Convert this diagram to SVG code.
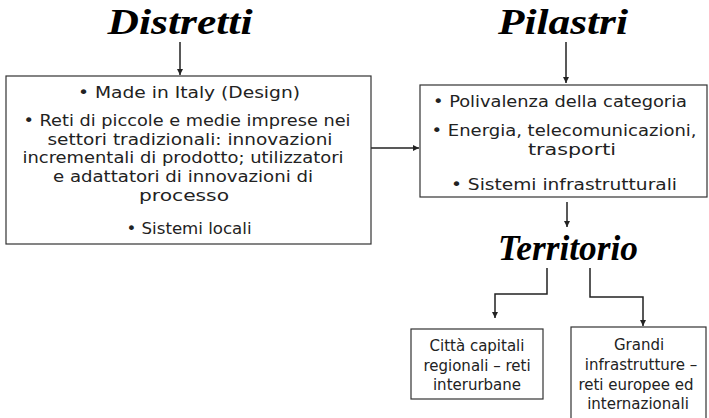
<svg xmlns="http://www.w3.org/2000/svg" width="709" height="418" viewBox="0 0 709 418">
<style>
.title{font-family:"Liberation Serif","Times New Roman",serif;font-weight:bold;font-style:italic;font-size:36px;fill:#000;text-anchor:middle}
.t{font-family:"DejaVu Sans",Verdana,sans-serif;font-size:16px;fill:#222;text-anchor:middle}
.s{font-family:"DejaVu Sans",Verdana,sans-serif;font-size:15px;fill:#222;text-anchor:middle}
.box{fill:#fff;stroke:#333;stroke-width:1.2}
.c{fill:none;stroke:#222;stroke-width:1.5}
</style>
<defs>
<marker id="ah" markerWidth="8" markerHeight="8" refX="6" refY="3" orient="auto" markerUnits="userSpaceOnUse">
<path d="M0,0 L6,3 L0,6 z" fill="#222"/>
</marker>
</defs>
<rect width="709" height="418" fill="#fff"/>
<g id="connectors">
<line class="c" x1="180" y1="42" x2="180" y2="75" marker-end="url(#ah)"/>
<line class="c" x1="566" y1="42" x2="566" y2="83" marker-end="url(#ah)"/>
<line class="c" x1="371" y1="148" x2="419" y2="148" marker-end="url(#ah)"/>
<line class="c" x1="567" y1="202" x2="567" y2="227" marker-end="url(#ah)"/>
<polyline class="c" points="547,268 547,294 495,294 495,318" marker-end="url(#ah)"/>
<polyline class="c" points="590,268 590,297 643,297 643,326" marker-end="url(#ah)"/>
</g>
<g id="distretti"><text class="title" x="180" y="34" textLength="145" lengthAdjust="spacingAndGlyphs">Distretti</text></g>
<g id="pilastri"><text class="title" x="563" y="34" textLength="130" lengthAdjust="spacingAndGlyphs">Pilastri</text></g>
<g id="territorio"><text class="title" x="568" y="260" textLength="140" lengthAdjust="spacingAndGlyphs">Territorio</text></g>
<g id="box-distretti">
<rect class="box" x="6" y="76" width="365" height="168"/>
<text class="t" x="189" y="98" textLength="222" lengthAdjust="spacingAndGlyphs">• Made in Italy (Design)</text>
<text class="t" x="187" y="126" textLength="327" lengthAdjust="spacingAndGlyphs">• Reti di piccole e medie imprese nei</text>
<text class="t" x="190" y="144.7" textLength="285" lengthAdjust="spacingAndGlyphs">settori tradizionali: innovazioni</text>
<text class="t" x="183" y="163.4" textLength="321" lengthAdjust="spacingAndGlyphs">incrementali di prodotto; utilizzatori</text>
<text class="t" x="183" y="182.1" textLength="260" lengthAdjust="spacingAndGlyphs">e adattatori di innovazioni di</text>
<text class="t" x="184" y="200.8" textLength="90" lengthAdjust="spacingAndGlyphs">processo</text>
<text class="t" x="189" y="234" textLength="125" lengthAdjust="spacingAndGlyphs">• Sistemi locali</text>
</g>
<g id="box-pilastri">
<rect class="box" x="420" y="85" width="287" height="112"/>
<text class="t" x="560" y="107" textLength="254" lengthAdjust="spacingAndGlyphs">• Polivalenza della categoria</text>
<text class="t" x="564" y="136" textLength="265" lengthAdjust="spacingAndGlyphs">• Energia, telecomunicazioni,</text>
<text class="t" x="572" y="155" textLength="88" lengthAdjust="spacingAndGlyphs">trasporti</text>
<text class="t" x="564" y="190" textLength="226" lengthAdjust="spacingAndGlyphs">• Sistemi  infrastrutturali</text>
</g>
<g id="box-citta">
<rect class="box" x="411" y="329" width="132" height="70"/>
<text class="s" x="477" y="351">Città capitali</text>
<text class="s" x="477" y="371">regionali – reti</text>
<text class="s" x="477" y="390">interurbane</text>
</g>
<g id="box-grandi">
<rect class="box" x="571" y="327" width="135" height="100"/>
<text class="s" x="639" y="350">Grandi</text>
<text class="s" x="641" y="370">infrastrutture –</text>
<text class="s" x="636" y="390">reti europee ed</text>
<text class="s" x="638" y="409">internazionali</text>
</g>
</svg>
